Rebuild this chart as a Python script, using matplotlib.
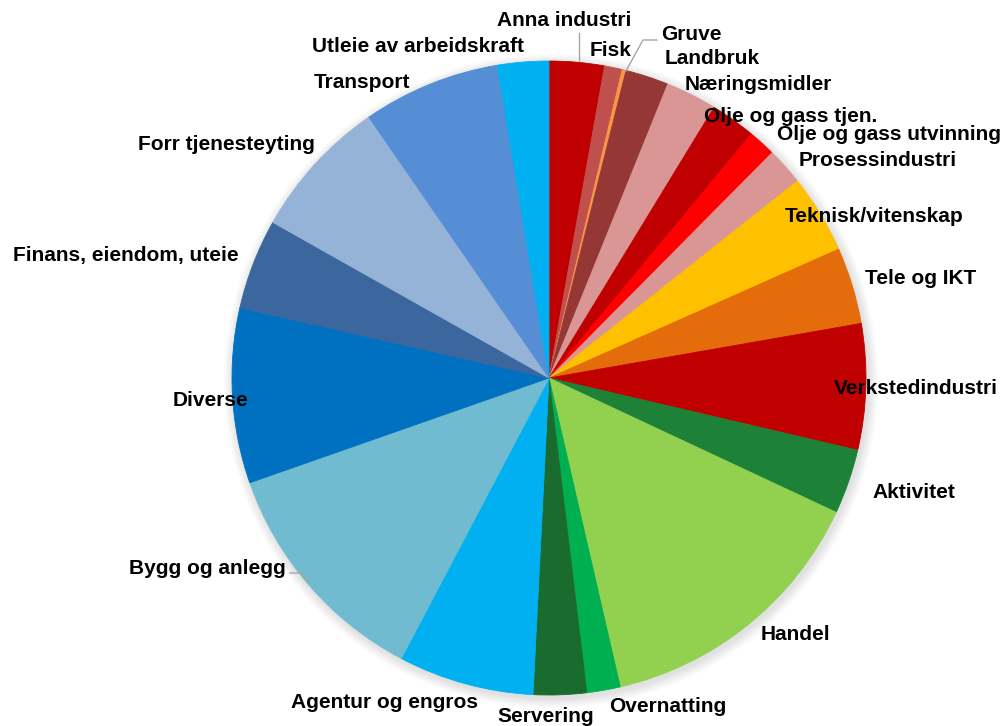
import matplotlib
matplotlib.use("Agg")
import matplotlib.pyplot as plt
from matplotlib.patches import Circle

categories = ["Anna industri", "Fisk", "Gruve", "Landbruk", "Næringsmidler",
              "Olje og gass tjen.", "Olje og gass utvinning", "Prosessindustri",
              "Teknisk/vitenskap", "Tele og IKT", "Verkstedindustri", "Aktivitet",
              "Handel", "Overnatting", "Servering", "Agentur og engros",
              "Bygg og anlegg", "Diverse", "Finans, eiendom, uteie",
              "Forr tjenesteyting", "Transport", "Utleie av arbeidskraft"]
values = [2.8, 0.9, 0.2, 2.2, 2.6, 2.3, 1.4, 1.9, 4.0, 3.9, 6.4, 3.3,
          14.4, 1.7, 2.7, 6.9, 11.9, 8.9, 4.6, 7.2, 7.0, 2.6]
colors = ["#C00000", "#C0504D", "#F79646", "#953735", "#D99694",
          "#C00000", "#FF0000", "#D99694", "#FFC000", "#E46C0A",
          "#C00000", "#1D8138", "#92D050", "#00B050", "#196B2E",
          "#00B0F0", "#71BBD0", "#0070C0", "#3B679E", "#95B3D7",
          "#558ED5", "#00B0F0"]

# label positions (pixel coordinates, y from top)
label_pos = [(564, 20), (611, 50), (691, 35), (712, 58), (758, 85),
             (791, 117), (889, 134), (878, 160), (874, 217), (921, 278),
             (916, 388), (914, 492), (795, 635), (668, 706), (546, 716),
             (384, 703), (207, 568), (210, 400), (126, 255), (226, 145),
             (362, 83), (418, 47)]

W, H = 1005, 726
fig = plt.figure(figsize=(W / 100, H / 100), dpi=100)
ax = fig.add_axes([0, 0, 1, 1])
ax.set_xlim(0, W)
ax.set_ylim(0, H)
ax.set_aspect("equal")
ax.axis("off")

cx, cy, R = 549, H - 378, 317

# soft shadow
for i in range(10):
    ax.add_patch(Circle((cx + 2, cy - 3), R + 10 - i, color="#808080",
                        alpha=0.025, lw=0, zorder=0))

wedges, _ = ax.pie(values, colors=colors, startangle=90, counterclock=False,
                   center=(cx, cy), radius=R, frame=True,
                   wedgeprops=dict(linewidth=0.6, antialiased=True))
for w, c in zip(wedges, colors):
    w.set_edgecolor(c)
    w.set_zorder(1)
ax.set_xlim(0, W)
ax.set_ylim(0, H)
ax.axis("off")

# leader lines
lc = "#A6A6A6"
ax.plot([579, 579], [H - 33, H - 61], color=lc, lw=1, zorder=2)
ax.plot([657, 643, 626], [H - 40, H - 40, H - 71], color=lc, lw=1, zorder=2)
ax.plot([290, 302, 310], [H - 573, H - 573, H - 582], color=lc, lw=1, zorder=2)

for name, (x, y) in zip(categories, label_pos):
    ax.text(x, H - y, name, ha="center", va="center", fontsize=15,
            fontweight="bold", family=["Liberation Sans", "DejaVu Sans"],
            color="black", zorder=5)

fig.savefig("out.png", dpi=100)
